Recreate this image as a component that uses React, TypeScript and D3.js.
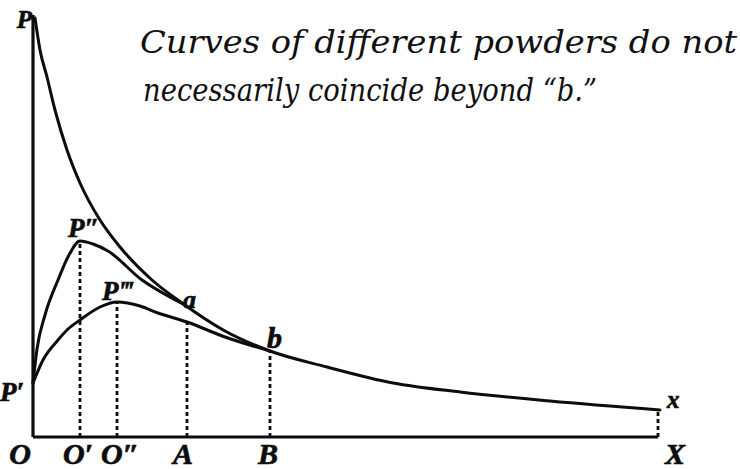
import React from "react";
import * as d3 from "d3";

// Curve values: [distance along OX, ordinate above OX]
const mainCurve: [number, number][] = [
  [2, 419], [7, 387], [14, 360], [22, 327], [34, 287], [47, 254], [67, 217],
  [87, 190], [119, 157], [149, 134], [192, 106], [237, 86], [294, 70],
  [360, 54], [427, 45], [517, 36], [627, 27],
];
const firstPeakCurve: [number, number][] = [
  [0, 54], [4, 88], [12, 122], [25, 157], [36, 182], [47, 196], [60, 193],
  [75, 186], [109, 157], [135, 141], [152, 132],
];
const secondPeakCurve: [number, number][] = [
  [0, 54], [10, 77], [25, 97], [34, 107], [47, 117], [67, 130], [84, 135],
  [107, 131], [125, 124], [154, 115], [192, 100], [237, 86],
];
const tickLabels = ["O", "O\u2032", "O\u2033", "A", "B", "X"];
const tickValues = [0, 47, 84, 154, 237, 625];
const ordinateHeights = [0, 196, 135, 115, 86, 27];
const axisTop = 422;
const noteLines = [
  "Curves of different powders do not",
  "necessarily coincide beyond \u201Cb.\u201D",
];

const W = 740;
const H = 469;
const LABEL_FONT = "Liberation Serif";
const NOTE_FONT = "DejaVu Serif";

export default function App() {
  const x = d3.scaleLinear().domain([0, 627]).range([33, 660]);
  const y = d3.scaleLinear().domain([0, 420]).range([437, 17]);
  const line = d3
    .line<[number, number]>()
    .x((d) => x(d[0]))
    .y((d) => y(d[1]))
    .curve(d3.curveMonotoneX);

  const tickDx = [-13, -2, 3, -4, -2, 17];

  const curveStyle = {
    fill: "none",
    stroke: "#0d0d0d",
    strokeWidth: 3,
    strokeLinejoin: "round" as const,
    strokeLinecap: "round" as const,
  };
  const labelStyle = {
    fontFamily: LABEL_FONT,
    fontStyle: "italic" as const,
    fontWeight: 700,
    fill: "#0d0d0d",
    stroke: "#0d0d0d",
    strokeWidth: 0.7,
  };
  const noteStyle = {
    fontFamily: NOTE_FONT,
    fontStyle: "italic" as const,
    fontWeight: 400,
    fontSize: 31,
    fill: "#111",
    lengthAdjust: "spacingAndGlyphs",
  };

  return (
    <svg
      width={W}
      height={H}
      viewBox={`0 0 ${W} ${H}`}
      style={{ position: "absolute", left: 0, top: 0, background: "#fff" }}
    >
      <rect x={0} y={0} width={W} height={H} fill="#fff" />
      {/* axes */}
      <line x1={x(0)} y1={y(0)} x2={x(0)} y2={y(axisTop)} stroke="#0d0d0d" strokeWidth={3.2} />
      <line x1={x(0)} y1={y(0)} x2={x(tickValues[5])} y2={y(0)} stroke="#0d0d0d" strokeWidth={3} />

      {/* dotted ordinates */}
      {tickValues.slice(1).map((tv, i) => (
        <line
          key={"ord" + i}
          x1={x(tv)}
          x2={x(tv)}
          y1={y(0)}
          y2={y(ordinateHeights[i + 1])}
          stroke="#0d0d0d"
          strokeWidth={2.8}
          strokeDasharray="4 3"
        />
      ))}

      {/* curves */}
      <path d={line(secondPeakCurve) || ""} {...curveStyle} />
      <path d={line(firstPeakCurve) || ""} {...curveStyle} />
      <path d={line(mainCurve) || ""} {...curveStyle} />

      {/* point labels */}
      <text x={x(0) - 1} y={y(420) + 11} textAnchor="end" fontSize={25} {...labelStyle}>P</text>
      <text x={x(0) - 9} y={y(54) + 18} textAnchor="end" fontSize={27} {...labelStyle}>P{"\u2032"}</text>
      <text x={x(47) - 12} y={y(196) - 4} fontSize={27} {...labelStyle}>P{"\u2033"}</text>
      <text x={x(84) - 15} y={y(135) - 2} fontSize={27} {...labelStyle}>P{"\u2034"}</text>
      <text x={x(154) - 4} y={y(130) + 1} fontSize={26} {...labelStyle}>a</text>
      <text x={x(237) - 3} y={y(86) - 3} fontSize={30} {...labelStyle}>b</text>
      <text x={x(627) + 7} y={y(27) - 2} fontSize={25} {...labelStyle}>x</text>

      {/* axis labels */}
      {tickLabels.map((t, i) => (
        <text
          key={"tl" + i}
          x={x(tickValues[i]) + tickDx[i]}
          y={464}
          textAnchor="middle"
          fontSize={30}
          {...labelStyle}
        >
          {t}
        </text>
      ))}

      {/* handwritten note */}
      <text x={140} y={53} textLength={597} {...noteStyle}>
        {noteLines[0]}
      </text>
      <text x={143} y={101} textLength={454} {...noteStyle}>
        {noteLines[1]}
      </text>
    </svg>
  );
}
